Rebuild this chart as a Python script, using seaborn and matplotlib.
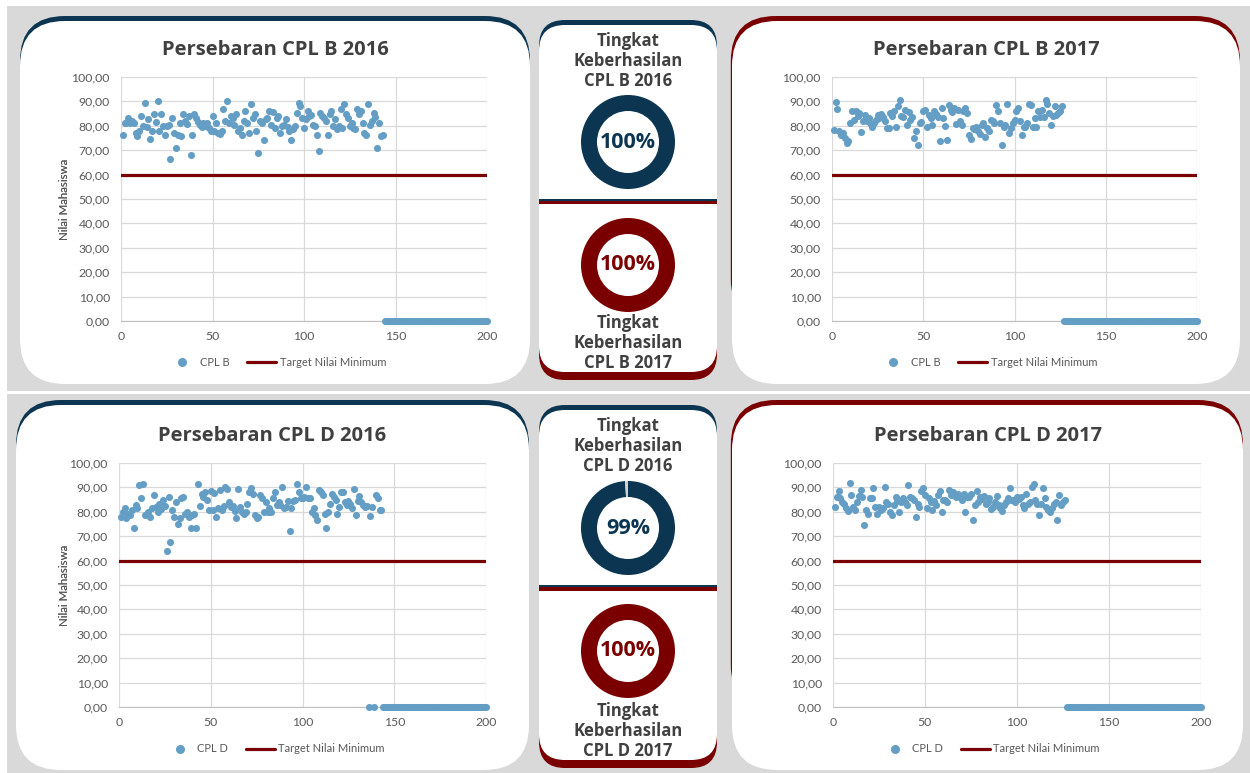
import numpy as np
import matplotlib
matplotlib.use("Agg")
import matplotlib.pyplot as plt
import seaborn as sns
from matplotlib.patches import FancyBboxPatch, Rectangle
from matplotlib.lines import Line2D

# nilai mahasiswa per urutan
nilai_b2016 = [
    76.4, 81.0, 81.0, 83.0, 81.0, 82.0, 81.0, 77.0, 76.0, 78.0,
    84.0, 80.0, 89.5, 79.5, 82.6, 74.4, 78.0, 84.7, 81.6, 90.0,
    78.0, 84.7, 80.0, 76.4, 80.0, 80.5, 66.5, 83.0, 77.0, 70.7,
    76.4, 81.0, 76.0, 84.7, 82.0, 80.8, 84.0, 68.0, 76.4, 84.7,
    83.0, 81.5, 80.5, 79.5, 81.0, 80.0, 81.0, 79.0, 78.0, 84.0,
    77.8, 81.0, 77.0, 76.5, 77.8, 86.7, 82.0, 90.0, 81.0, 84.0,
    83.0, 80.5, 85.0, 77.8, 79.0, 76.4, 82.0, 86.0, 81.0, 77.0,
    88.8, 83.0, 84.7, 78.0, 69.0, 82.0, 81.0, 74.0, 82.6, 83.0,
    86.0, 80.5, 85.5, 79.0, 83.0, 84.0, 77.0, 80.0, 80.5, 82.6,
    79.5, 78.0, 74.0, 78.5, 80.0, 85.3, 89.5, 88.0, 83.0, 79.0,
    82.6, 86.0, 84.0, 84.5, 80.5, 80.0, 76.4, 69.6, 85.3, 84.0,
    83.0, 82.0, 76.4, 84.7, 86.0, 80.0, 82.6, 78.5, 80.0, 86.7,
    79.0, 88.8, 84.7, 83.0, 80.0, 81.0, 79.0, 78.5, 86.7, 84.7,
    86.0, 81.0, 77.0, 76.4, 88.8, 80.5, 82.0, 85.3, 83.5, 71.0,
    81.0, 75.7, 76.4]

nilai_b2017 = [
    78.4, 89.7, 87.0, 77.7, 76.3, 77.0, 75.0, 72.9, 73.6, 81.0,
    86.0, 82.5, 86.0, 84.0, 85.2, 77.3, 81.8, 84.5, 82.0, 83.0,
    81.0, 79.7, 81.0, 82.5, 84.5, 83.0, 85.0, 83.8, 81.8, 79.0,
    79.3, 85.2, 84.0, 86.0, 79.7, 88.0, 90.7, 84.2, 83.5, 86.6,
    80.4, 85.5, 82.5, 83.8, 75.0, 77.7, 72.0, 81.0, 81.5, 86.0,
    86.6, 79.7, 84.5, 83.0, 80.4, 86.0, 85.0, 83.8, 73.8, 87.3,
    83.0, 80.0, 74.2, 88.6, 86.6, 85.5, 87.3, 80.7, 86.6, 81.8,
    80.4, 86.0, 87.3, 85.2, 76.3, 74.7, 79.0, 78.5, 79.7, 77.7,
    76.6, 80.4, 81.0, 75.6, 79.0, 77.7, 82.5, 81.8, 81.0, 88.6,
    86.0, 81.0, 72.2, 79.7, 80.5, 89.0, 77.0, 79.0, 81.0, 82.5,
    86.0, 87.3, 81.8, 76.3, 79.5, 79.7, 81.0, 89.0, 88.4, 79.7,
    83.0, 79.7, 86.0, 83.8, 86.6, 83.8, 90.7, 89.0, 85.2, 80.4,
    84.0, 88.0, 84.5, 85.2, 86.0, 88.0]

nilai_d2016 = [
    78.0, 80.0, 81.4, 77.6, 79.3, 78.5, 80.7, 73.2, 82.8, 81.4,
    91.0, 85.8, 91.4, 78.7, 79.0, 80.0, 78.0, 81.4, 87.0, 82.0,
    79.8, 83.4, 81.0, 84.8, 82.3, 64.0, 86.0, 67.5, 80.7, 78.0,
    84.0, 75.2, 77.3, 85.8, 86.0, 79.3, 80.0, 78.0, 73.2, 78.7,
    79.0, 73.5, 91.4, 82.5, 87.5, 86.0, 88.2, 84.8, 80.7, 88.5,
    80.7, 87.8, 78.0, 81.4, 89.0, 80.7, 82.5, 90.0, 89.3, 84.0,
    82.0, 82.5, 80.5, 77.6, 89.3, 82.0, 80.0, 79.3, 80.0, 83.0,
    88.2, 89.6, 87.5, 78.7, 77.5, 78.0, 86.8, 85.5, 80.0, 84.0,
    80.0, 81.4, 80.0, 85.5, 88.0, 82.8, 84.0, 82.8, 90.2, 81.4,
    82.0, 84.4, 72.0, 81.4, 84.4, 85.0, 91.2, 88.2, 85.5, 85.5,
    86.0, 90.3, 85.5, 85.5, 80.0, 81.7, 78.7, 76.6, 89.0, 88.2,
    86.8, 79.0, 73.2, 80.0, 83.4, 87.5, 86.0, 84.8, 79.3, 82.0,
    88.2, 88.2, 84.0, 82.8, 84.4, 83.4, 81.5, 89.3, 78.7, 84.4,
    86.6, 84.0, 82.8, 82.0, 82.5, 0.0, 78.4, 82.0, 0.0, 86.8,
    85.5, 80.7, 80.7]

nilai_d2017 = [
    82.0, 86.0, 88.5, 85.8, 84.0, 83.0, 81.4, 80.5, 92.0, 86.9,
    82.0, 80.7, 84.0, 86.5, 89.0, 86.2, 74.6, 80.7, 79.3, 85.5,
    85.5, 89.6, 82.0, 79.3, 82.0, 80.7, 81.7, 90.3, 84.0, 83.0,
    80.0, 78.7, 82.8, 86.2, 84.5, 80.0, 84.0, 85.5, 84.0, 82.8,
    91.0, 86.2, 85.5, 85.0, 78.0, 83.4, 82.0, 88.5, 89.6, 87.0,
    81.4, 85.5, 84.0, 80.7, 84.5, 82.8, 86.9, 88.5, 80.0, 84.8,
    85.0, 84.0, 89.0, 86.9, 88.2, 87.0, 86.2, 87.5, 86.2, 85.0,
    87.5, 80.0, 86.2, 86.0, 87.5, 76.6, 82.8, 88.5, 84.0, 86.2,
    85.2, 86.5, 83.4, 84.0, 85.5, 81.0, 82.0, 84.0, 86.5, 82.8,
    81.4, 80.3, 82.8, 84.0, 85.5, 89.6, 84.8, 84.8, 84.0, 86.2,
    85.2, 86.0, 82.8, 81.4, 87.5, 83.4, 84.0, 90.3, 91.2, 85.0,
    83.4, 78.7, 83.4, 89.6, 85.8, 82.0, 80.7, 80.0, 81.4, 83.4,
    84.0, 76.6, 86.9, 82.8, 84.0, 84.8]

# baris kosong di tabel (nilai 0 sampai baris ke-200)
kosong_2016 = [
    0, 0, 0, 0, 0, 0, 0, 0, 0, 0, 0, 0, 0, 0, 0, 0, 0, 0, 0,
    0, 0, 0, 0, 0, 0, 0, 0, 0, 0, 0, 0, 0, 0, 0, 0, 0, 0, 0,
    0, 0, 0, 0, 0, 0, 0, 0, 0, 0, 0, 0, 0, 0, 0, 0, 0, 0, 0]
kosong_2017 = [
    0, 0, 0, 0, 0, 0, 0, 0, 0, 0, 0, 0, 0, 0, 0, 0, 0, 0, 0, 0,
    0, 0, 0, 0, 0, 0, 0, 0, 0, 0, 0, 0, 0, 0, 0, 0, 0, 0, 0, 0,
    0, 0, 0, 0, 0, 0, 0, 0, 0, 0, 0, 0, 0, 0, 0, 0, 0, 0, 0, 0,
    0, 0, 0, 0, 0, 0, 0, 0, 0, 0, 0, 0, 0, 0]

judul = ["Persebaran CPL B 2016", "Persebaran CPL B 2017",
         "Persebaran CPL D 2016", "Persebaran CPL D 2017"]
seri = ["CPL B", "CPL B", "CPL D", "CPL D"]
teks_donat = ["Tingkat\nKeberhasilan\nCPL B 2016", "Tingkat\nKeberhasilan\nCPL B 2017",
              "Tingkat\nKeberhasilan\nCPL D 2016", "Tingkat\nKeberhasilan\nCPL D 2017"]
persen_berhasil = [100, 100, 99, 100]
target_nilai = 60
batas_x = [0, 200]
tick_x = [0, 50, 100, 150, 200]
tick_y = [0, 10, 20, 30, 40, 50, 60, 70, 80, 90, 100]

biru_tua = "#0b3550"
merah_tua = "#7a0000"
warna_titik = "#649ec4"
abu_latar = "#d9d9d9"
teks_gelap = "#404040"
teks_abu = "#595959"

sns.set_style("white")
plt.rcParams["font.family"] = ["Lato", "DejaVu Sans"]

W, H = 1250, 773
fig = plt.figure(figsize=(W / 100, H / 100), dpi=100, facecolor="white")
bg = fig.add_axes([0, 0, 1, 1], zorder=0)
bg.set_xlim(0, W)
bg.set_ylim(H, 0)
bg.axis("off")


def kotak(x0, y0, x1, y1):
    return [x0 / W, 1 - y1 / H, (x1 - x0) / W, (y1 - y0) / H]


def bulat(x0, y0, x1, y1, fc, r):
    bg.add_patch(FancyBboxPatch((x0, y0), x1 - x0, y1 - y0,
                                boxstyle=f"round,pad=0,rounding_size={r}",
                                fc=fc, ec="none"))


# latar abu-abu
bg.add_patch(Rectangle((7, 6), W - 7, 385, fc=abu_latar, ec="none"))
bg.add_patch(Rectangle((7, 394), W - 7, H - 394, fc=abu_latar, ec="none"))

# (panel, axes, warna, judul y, legenda y, legenda x)
tata_letak = [
    ((20, 16, 530, 384), (121, 77, 487, 321), biru_tua, 50, 362, 277),
    ((732, 16, 1240, 384), (832, 77, 1197, 321), merah_tua, 50, 362, 988),
    ((16, 400, 529, 770), (119, 463, 486, 707), biru_tua, 436, 749, 275),
    ((732, 400, 1243, 770), (833, 463, 1201, 707), merah_tua, 436, 749, 990),
]
data_nilai = [nilai_b2016 + kosong_2016, nilai_b2017 + kosong_2017,
              nilai_d2016 + kosong_2016, nilai_d2017 + kosong_2017]

for i, (pan, axb, warna, ty, ly, lx) in enumerate(tata_letak):
    x0, y0, x1, y1 = pan
    geser = 1.2 if warna == merah_tua else 0
    bulat(x0 - geser, y0, x1, y1 - 60, warna, 45)
    bulat(x0, y0 + 5, x1, y1, "white", 45)
    bg.text((x0 + x1) / 2, ty, judul[i], ha="center", va="center",
            fontsize=14.5, fontweight="bold", color=teks_gelap, family="Open Sans")

    ax = fig.add_axes(kotak(*axb), zorder=2)
    nilai = data_nilai[i]
    urutan = np.arange(1, len(nilai) + 1)
    sns.scatterplot(x=urutan, y=nilai, ax=ax, color=warna_titik, s=26,
                    linewidth=0, clip_on=False, zorder=3)
    sns.lineplot(x=batas_x, y=[target_nilai, target_nilai], ax=ax,
                 color=merah_tua, linewidth=2.3, zorder=4)
    ax.set_xlim(batas_x)
    ax.set_ylim(0, 100)
    ax.set_xticks(tick_x)
    ax.set_yticks(tick_y)
    ax.set_yticklabels([f"{v:.2f}".replace(".", ",") for v in tick_y])
    ax.grid(True, color="#d9d9d9", linewidth=0.9)
    ax.set_axisbelow(True)
    for s in ["top", "right", "left"]:
        ax.spines[s].set_visible(False)
    ax.spines["bottom"].set_color("#bfbfbf")
    ax.tick_params(length=0, labelsize=8.8, labelcolor=teks_abu)
    ax.tick_params(axis="y", pad=8)
    ax.tick_params(axis="x", pad=7)
    ax.set_xlabel("")
    ax.set_ylabel("Nilai Mahasiswa", fontsize=8.3, color=teks_abu)
    ax.yaxis.set_label_coords((70 - axb[0]) / (axb[2] - axb[0]), 0.5)

    tanda = [Line2D([], [], marker="o", ls="none", color=warna_titik, markersize=5.5),
             Line2D([], [], color=merah_tua, lw=2.3)]
    ax.legend(tanda, [seri[i], "Target Nilai Minimum"], loc="center",
              bbox_to_anchor=(lx / W, 1 - ly / H), bbox_transform=fig.transFigure,
              ncol=2, frameon=False, fontsize=8, labelcolor=teks_abu,
              handlelength=2.6, handletextpad=0.3, columnspacing=1.6)

# panel tengah (tingkat keberhasilan)
tengah = [(539, 20, 717, 380, 201), (539, 405, 717, 768, 587)]
for j, (x0, y0, x1, y1, garis) in enumerate(tengah):
    bulat(x0, y0, x1, garis, biru_tua, 26)
    bulat(x0, garis, x1, y1, merah_tua, 26)
    bulat(x0, y0 + 5, x1, y1 - 8, "white", 26)
    bg.add_patch(Rectangle((x0, garis - 2.5), x1 - x0, 2.8, fc=biru_tua, ec="none"))
    bg.add_patch(Rectangle((x0, garis + 0.3), x1 - x0, 3.2, fc=merah_tua, ec="none"))

    cx = (x0 + x1) / 2
    atas, bawah = 2 * j, 2 * j + 1
    bg.text(cx, y0 + 41, teks_donat[atas], ha="center", va="center",
            fontsize=12, fontweight="bold", color=teks_gelap, family="Open Sans",
            linespacing=1.15, multialignment="center")
    bg.text(cx, y1 - 37, teks_donat[bawah], ha="center", va="center",
            fontsize=12, fontweight="bold", color=teks_gelap, family="Open Sans",
            linespacing=1.15, multialignment="center")

    for k, (cy, warna) in enumerate([(garis - 59, biru_tua), (garis + 64, merah_tua)]):
        p = persen_berhasil[2 * j + k]
        axd = fig.add_axes(kotak(cx - 50, cy - 50, cx + 50, cy + 50), zorder=3)
        axd.pie([p, 100 - p], colors=[warna, "#d0d0d0"], startangle=90,
                counterclock=False, radius=0.94,
                wedgeprops=dict(width=0.32, linewidth=0))
        axd.set_xlim(-1, 1)
        axd.set_ylim(-1, 1)
        axd.set_aspect("equal")
        axd.axis("off")
        axd.text(0, 0, f"{p}%", ha="center", va="center", fontsize=15.5,
                 fontweight="bold", color=warna, family="Open Sans")

fig.savefig("out.png", dpi=100, facecolor="white")
